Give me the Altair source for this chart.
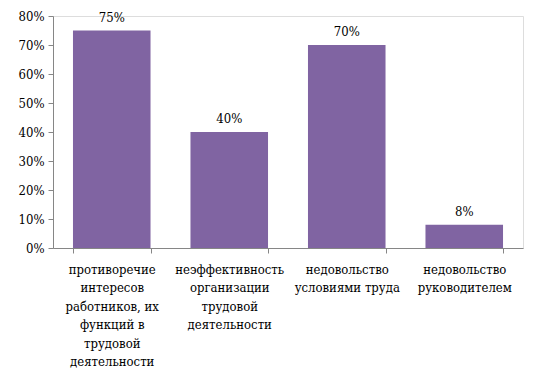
import altair as alt
import pandas as pd

categories = [
    "противоречие|интересов|работников, их|функций в|трудовой|деятельности",
    "неэффективность|организации|трудовой|деятельности",
    "недовольство|условиями труда",
    "недовольство|руководителем",
]
values = [0.75, 0.40, 0.70, 0.08]
labels = ["75%", "40%", "70%", "8%"]

df = pd.DataFrame({"cat": categories, "val": values, "lab": labels})

FONT = "DejaVu Serif Condensed, DejaVu Serif"

base = alt.Chart(df).encode(
    x=alt.X(
        "cat:N",
        sort=categories,
        scale=alt.Scale(paddingInner=0.34, paddingOuter=0.17),
        axis=alt.Axis(
            title=None,
            labelAngle=0,
            labelExpr="split(datum.label, '|')",
            labelFont=FONT,
            labelFontSize=13,
            labelColor="black",
            labelLineHeight=18.5,
            labelPadding=10,
            labelLimit=200,
            tickBand="extent",
            tickSize=5,
            tickColor="#868686",
            domainColor="#868686",
            labelBaseline="top",
        ),
    ),
    y=alt.Y(
        "val:Q",
        scale=alt.Scale(domain=[0, 0.8]),
        axis=alt.Axis(
            title=None,
            format=".0%",
            values=[0, 0.1, 0.2, 0.3, 0.4, 0.5, 0.6, 0.7, 0.8],
            grid=False,
            labelFont=FONT,
            labelFontSize=13,
            labelColor="black",
            tickSize=5,
            tickColor="#868686",
            domainColor="#868686",
            labelPadding=4,
        ),
    ),
)

bars = base.mark_bar(color="#8064A2")
text = base.mark_text(dy=-13, font=FONT, fontSize=13, color="black").encode(text="lab:N")

chart = (
    (bars + text)
    .properties(
        width=470,
        height=232,
        autosize=alt.AutoSizeParams(type="none"),
        padding={"left": 45, "top": 8, "right": 10, "bottom": 126},
    )
    .configure_view(stroke=None)
    .configure(background="white", font=FONT)
)

chart.save("out.html", embed_options={"renderer": "svg", "actions": False})
